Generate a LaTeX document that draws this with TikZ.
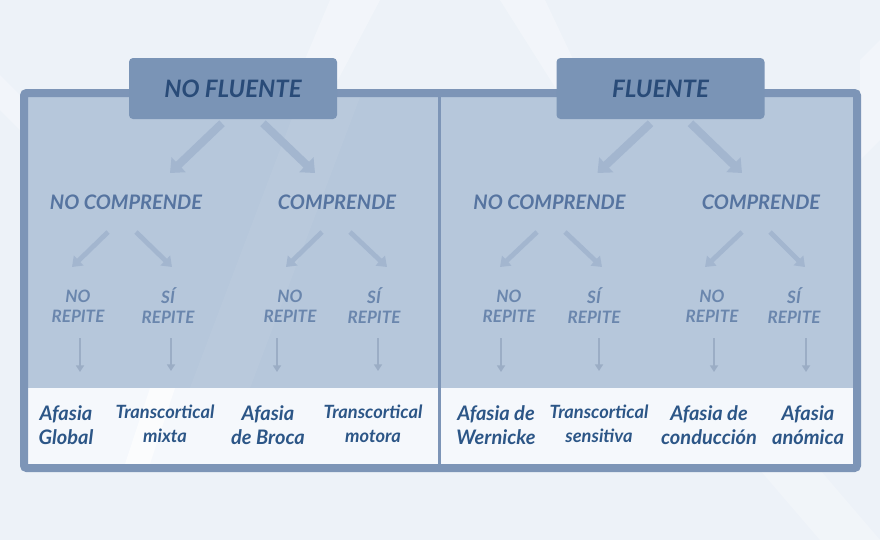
\documentclass[tikz,border=0pt]{standalone}
\usepackage{fontspec}
\setmainfont{Lato}
\usetikzlibrary{arrows.meta,calc}
\definecolor{bgc}{HTML}{EDF2F8}
\definecolor{frame}{HTML}{7D95B7}
\definecolor{panel}{HTML}{B6C7DB}
\definecolor{lowbox}{HTML}{F5F8FC}
\definecolor{hdrfill}{HTML}{7A94B6}
\definecolor{hdrtext}{HTML}{294B78}
\definecolor{lvltext}{HTML}{5674A0}
\definecolor{reptext}{HTML}{6A86AD}
\definecolor{restext}{HTML}{2C5687}
\definecolor{arr}{HTML}{A3B6CF}
\tikzset{
  hdr/.style={fill=hdrfill, rounded corners=3pt, minimum width=156pt, minimum height=45.75pt,
    text=hdrtext, font=\fontsize{18}{20}\selectfont\bfseries\itshape, inner sep=0pt},
  lvl/.style={text=lvltext, font=\fontsize{15}{16}\selectfont\bfseries\itshape, inner sep=0pt},
  rep/.style={text=reptext, font=\fontsize{12.8}{15}\selectfont\bfseries\itshape, align=center, inner sep=0pt},
  resA/.style={text=restext, font=\fontsize{15}{18}\selectfont\bfseries\itshape, align=center, inner sep=0pt},
  resT/.style={text=restext, font=\fontsize{13.7}{18}\selectfont\bfseries\itshape, align=center, inner sep=0pt},
  bigarr/.style={draw=arr, line width=6pt, -{Triangle[width=15pt,length=9pt]}},
  midarr/.style={draw=arr, line width=3.6pt, -{Triangle[width=10pt,length=7pt]}},
  smallarr/.style={draw=arr!95!black, line width=1.5pt, -{Triangle[width=6pt,length=5pt]}},
}
\begin{document}
\begin{tikzpicture}[x=0.75pt,y=-0.75pt]
\useasboundingbox (0,0) rectangle (880,540);
\fill[bgc] (0,0) rectangle (880,540);
% faint background logo shapes
\fill[white,opacity=0.3] (330,0) -- (380,0) -- (330,95) -- (290,95) -- cycle;
\fill[white,opacity=0.3] (500,0) -- (545,0) -- (590,95) -- (560,95) -- cycle;
\fill[white,opacity=0.3] (860,60) -- (880,40) -- (880,140) -- (860,160) -- cycle;
\fill[white,opacity=0.3] (0,75) -- (20,95) -- (20,130) -- (0,110) -- cycle;
\fill[white,opacity=0.25] (760,470) -- (820,470) -- (880,540) -- (820,540) -- cycle;
% panel
\fill[panel] (24,93) rectangle (857,468);
\fill[white,opacity=0.05] (300,97) -- (360,97) -- (250,388) -- (190,388) -- cycle;
\fill[lowbox] (28,388) rectangle (853,464);
\fill[white,opacity=0.6] (150,388) -- (175,388) -- (150,464) -- (125,464) -- cycle;
\draw[frame, line width=6pt, rounded corners=2pt] (24,93) rectangle (857,468);
\draw[frame, line width=2.6pt] (439.5,95) -- (439.5,466);
% headers
\node[hdr] (nf) at (233,88.5) {NO FLUENTE};
\node[hdr] (fl) at (660.5,88.5) {FLUENTE};
% level 2
\node[lvl] (nc1) at (126,202) {NO COMPRENDE};
\node[lvl] (c1) at (337,202) {COMPRENDE};
\node[lvl] (nc2) at (549.5,202) {NO COMPRENDE};
\node[lvl] (c2) at (761,202) {COMPRENDE};
% arrows level 1
\draw[bigarr] ([shift={(-11,4)}]nf.south) -- ([shift={(44,-29)}]nc1.center);
\draw[bigarr] ([shift={(30,4)}]nf.south) -- ([shift={(-22,-29)}]c1.center);
\draw[bigarr] ([shift={(-10,4)}]fl.south) -- ([shift={(48,-29)}]nc2.center);
\draw[bigarr] ([shift={(30,4)}]fl.south) -- ([shift={(-19,-29)}]c2.center);
% level 3
\node[rep] (r1) at (78,306) {NO\\REPITE};
\node[rep] (r2) at (168,306) {SÍ\\REPITE};
\node[rep] (r3) at (290,306) {NO\\REPITE};
\node[rep] (r4) at (374,306) {SÍ\\REPITE};
\node[rep] (r5) at (509,306) {NO\\REPITE};
\node[rep] (r6) at (594,306) {SÍ\\REPITE};
\node[rep] (r7) at (712,306) {NO\\REPITE};
\node[rep] (r8) at (794,306) {SÍ\\REPITE};
% arrows level 2
\draw[midarr] ([shift={(-18,30)}]nc1.center) -- ([shift={(-54,65)}]nc1.center);
\draw[midarr] ([shift={(10,30)}]nc1.center) -- ([shift={(46,65)}]nc1.center);
\draw[midarr] ([shift={(-15,30)}]c1.center) -- ([shift={(-51,65)}]c1.center);
\draw[midarr] ([shift={(13,30)}]c1.center) -- ([shift={(50,65)}]c1.center);
\draw[midarr] ([shift={(-12.5,30)}]nc2.center) -- ([shift={(-49.5,65)}]nc2.center);
\draw[midarr] ([shift={(15.5,30)}]nc2.center) -- ([shift={(52.5,65)}]nc2.center);
\draw[midarr] ([shift={(-19,30)}]c2.center) -- ([shift={(-56,65)}]c2.center);
\draw[midarr] ([shift={(9,30)}]c2.center) -- ([shift={(44,65)}]c2.center);
% results
\node[resA] (b1) at (66,425) {Afasia\\Global};
\node[resT] (b2) at (165,424) {Transcortical\\mixta};
\node[resA] (b3) at (268,425) {Afasia\\de Broca};
\node[resT] (b4) at (373,424) {Transcortical\\motora};
\node[resA] (b5) at (496,425) {Afasia de\\Wernicke};
\node[resT] (b6) at (599,424) {Transcortical\\sensitiva};
\node[resA] (b7) at (709,425) {Afasia de\\conducción};
\node[resA] (b8) at (808,425) {Afasia\\anómica};
% small arrows
\draw[smallarr] ([shift={(2,32)}]r1.center) -- ([shift={(14,-53)}]b1.center);
\draw[smallarr] ([shift={(3,32)}]r2.center) -- ([shift={(6,-53)}]b2.center);
\draw[smallarr] ([shift={(-13,32)}]r3.center) -- ([shift={(9,-53)}]b3.center);
\draw[smallarr] ([shift={(4,32)}]r4.center) -- ([shift={(5,-53)}]b4.center);
\draw[smallarr] ([shift={(-8,32)}]r5.center) -- ([shift={(5,-53)}]b5.center);
\draw[smallarr] ([shift={(5,32)}]r6.center) -- ([shift={(0,-53)}]b6.center);
\draw[smallarr] ([shift={(2,32)}]r7.center) -- ([shift={(5,-53)}]b7.center);
\draw[smallarr] ([shift={(12,32)}]r8.center) -- ([shift={(-2,-53)}]b8.center);
\end{tikzpicture}
\end{document}
